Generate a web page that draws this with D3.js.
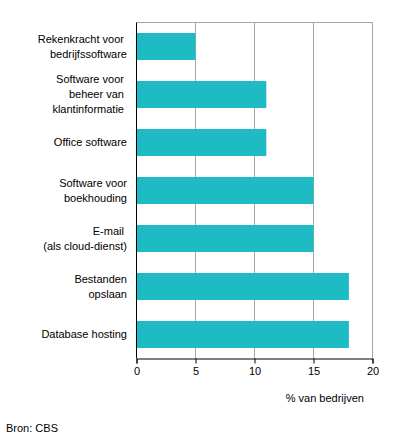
<!DOCTYPE html>
<html>
<head>
<meta charset="utf-8">
<script src="https://cdn.jsdelivr.net/npm/d3@7"></script>
<style>
  body { margin: 0; background: #fff; }
  text { font-family: "Liberation Sans", Arial, sans-serif; font-size: 11px; fill: #000; }
</style>
</head>
<body>
<div id="chart"></div>
<script>
// trailing non-breaking spaces keep the original label offsets
var categories = [
  ["Rekenkracht voor\u00a0", "bedrijfssoftware"],
  ["Software voor\u00a0", "beheer van\u00a0", "klantinformatie\u00a0"],
  ["Office software"],
  ["Software voor", "boekhouding"],
  ["E-mail\u00a0", "(als cloud-dienst)"],
  ["Bestanden", "opslaan"],
  ["Database hosting"]
];
var values = [5, 11, 11, 15, 15, 18, 18];
var xTicks = [0, 5, 10, 15, 20];

var barColor = "#1fbbc4";
var gridColor = "#a6a6a6";

var plotLeft = 136.5, plotRight = 372.5, plotTop = 22.5, plotBottom = 358.5;

var svg = d3.select("#chart").append("svg")
  .attr("width", 396)
  .attr("height", 439);

var x = d3.scaleLinear().domain([0, 20]).range([plotLeft, plotRight]);
var y = d3.scaleBand()
  .domain(d3.range(categories.length))
  .range([plotTop, plotBottom])
  .paddingInner(0.44)
  .paddingOuter(0.22);

// gridlines
svg.append("g")
  .selectAll("line")
  .data(xTicks.slice(1))
  .enter().append("line")
    .attr("x1", function(d) { return x(d); })
    .attr("x2", function(d) { return x(d); })
    .attr("y1", plotTop)
    .attr("y2", plotBottom)
    .attr("stroke", gridColor)
    .attr("stroke-width", 1);

// top border
svg.append("line")
  .attr("x1", plotLeft).attr("x2", plotRight)
  .attr("y1", plotTop).attr("y2", plotTop)
  .attr("stroke", gridColor);

// bars
svg.append("g")
  .selectAll("rect")
  .data(values)
  .enter().append("rect")
    .attr("x", x(0))
    .attr("y", function(d, i) { return Math.round(y(i)); })
    .attr("width", function(d) { return x(d) - x(0); })
    .attr("height", Math.round(y.bandwidth()))
    .attr("fill", barColor);

// x axis
var xAxis = d3.axisBottom(x).tickValues(xTicks).tickSize(5).tickPadding(4);
var gx = svg.append("g")
  .attr("transform", "translate(0," + plotBottom + ")")
  .call(xAxis);
gx.select(".domain").attr("stroke", "#000");
gx.selectAll(".tick line").attr("stroke", "#000");
gx.selectAll(".tick text")
  .style("font-family", "'Liberation Sans', Arial, sans-serif")
  .style("font-size", "11px")
  .attr("fill", "#000");

// y axis line
svg.append("line")
  .attr("x1", plotLeft).attr("x2", plotLeft)
  .attr("y1", plotTop).attr("y2", plotBottom)
  .attr("stroke", "#000");

// category labels
var lineH = 15;
var labels = svg.append("g")
  .selectAll("text")
  .data(categories)
  .enter().append("text")
    .attr("text-anchor", "end")
    .attr("transform", function(d, i) {
      var c = y(i) + y.bandwidth() / 2;
      return "translate(127," + (c - (d.length - 1) * lineH / 2) + ")";
    });

labels.selectAll("tspan")
  .data(function(d) { return d; })
  .enter().append("tspan")
    .attr("x", 0)
    .attr("y", function(d, i) { return i * lineH; })
    .attr("dy", "0.35em")
    .text(function(d) { return d; });

svg.append("text")
  .attr("x", 364)
  .attr("y", 398)
  .attr("dy", "0.35em")
  .attr("text-anchor", "end")
  .text("% van bedrijven");

svg.append("text")
  .attr("x", 6)
  .attr("y", 428)
  .attr("dy", "0.35em")
  .text("Bron: CBS");
</script>
</body>
</html>
